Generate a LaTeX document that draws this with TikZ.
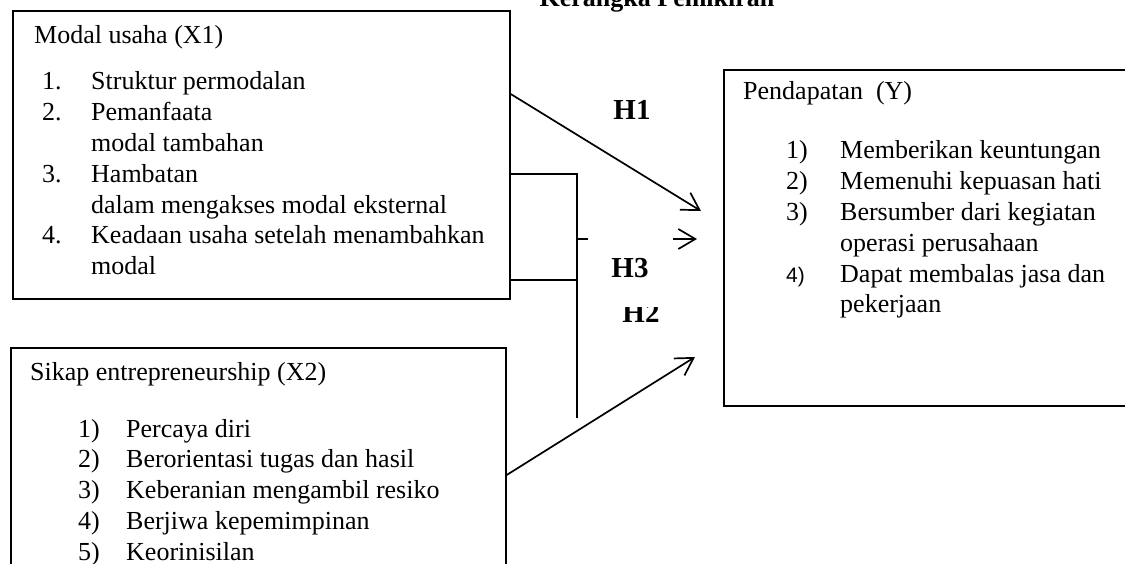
\documentclass[tikz,border=0pt]{standalone}
\usepackage{fontspec}
\setmainfont{Liberation Serif}
\setsansfont{Liberation Sans}
\usetikzlibrary{arrows.meta}
\tikzstyle{kotak}=[draw,rectangle,line width=1.7pt,anchor=north west,inner sep=0pt]
\tikzstyle{teks}=[anchor=base west,inner sep=0pt,font=\fontsize{26}{30.8}\selectfont]
\tikzstyle{hipo}=[inner sep=0pt,font=\fontsize{29}{34}\selectfont\bfseries]
\tikzstyle{garis}=[line width=1.7pt]
\tikzstyle{panah}=[line width=1.7pt,-{Straight Barb[length=17pt,width=20pt]}]

\begin{document}
\begin{tikzpicture}[x=1pt,y=-1pt]
\useasboundingbox (0,0) rectangle (1125,564);

\node[anchor=base,font=\fontsize{26}{30}\selectfont\bfseries] (judul) at (657,7) {Kerangka Pemikiran};

\node[kotak,minimum width=497,minimum height=288] (X1) at (12,10) {};
\node[kotak,minimum width=495,minimum height=260] (X2) at (10,347) {};
\node[kotak,minimum width=440,minimum height=336] (Y) at (723,69) {};

\node[teks] (tX1) at (34,44) {Modal usaha (X1)};
\node[teks] (lX1) at (42,90) {\begin{tabular}[t]{@{}p{49pt}@{}l@{}}
1. & Struktur permodalan\\
2. & Pemanfaata\\
   & modal tambahan\\
3. & Hambatan\\
   & dalam mengakses modal eksternal\\
4. & Keadaan usaha setelah menambahkan\\
   & modal
\end{tabular}};

\node[teks] (tX2) at (30,380) {Sikap entrepreneurship (X2)};
\node[teks] (lX2) at (78,437) {\begin{tabular}[t]{@{}p{48pt}@{}l@{}}
1) & Percaya diri\\
2) & Berorientasi tugas dan hasil\\
3) & Keberanian mengambil resiko\\
4) & Berjiwa kepemimpinan\\
5) & Keorinisilan
\end{tabular}};

\node[teks] (tY) at (743,100) {Pendapatan~~(Y)};
\node[teks] (lY) at (786,159) {\begin{tabular}[t]{@{}p{54pt}@{}l@{}}
1) & Memberikan keuntungan\\
2) & Memenuhi kepuasan hati\\
3) & Bersumber dari kegiatan\\
   & operasi perusahaan\\
{\sffamily\fontsize{21}{30.8}\selectfont 4)} & Dapat membalas jasa dan\\
   & pekerjaan
\end{tabular}};

\node[hipo] (H1) at (632,110) {H1};
\node[hipo] (H3) at (630,268) {H3};
\begin{scope}
\clip (600,307) rectangle (690,340);
\node[hipo] (H2) at (641,313) {H2};
\end{scope}

\coordinate (uH1) at (701,211);
\draw[panah] (X1.east |- 0,94) -- (uH1);

\coordinate (K1) at (577,174);
\coordinate (K2) at (577,418);
\draw[garis] (X1.east |- K1) -- (K1) -- (K2);
\draw[garis] (X1.east |- 0,280) -- (K1 |- 0,280);
\draw[garis] (K1 |- 0,239) -- ++(11,0);

\coordinate (aH3) at (673,239);
\coordinate (uH3) at (697,239);
\draw[panah] (aH3) -- (uH3);

\coordinate (uH2) at (695,357);
\draw[panah] (X2.east |- 0,475) -- (uH2);

\end{tikzpicture}
\end{document}
